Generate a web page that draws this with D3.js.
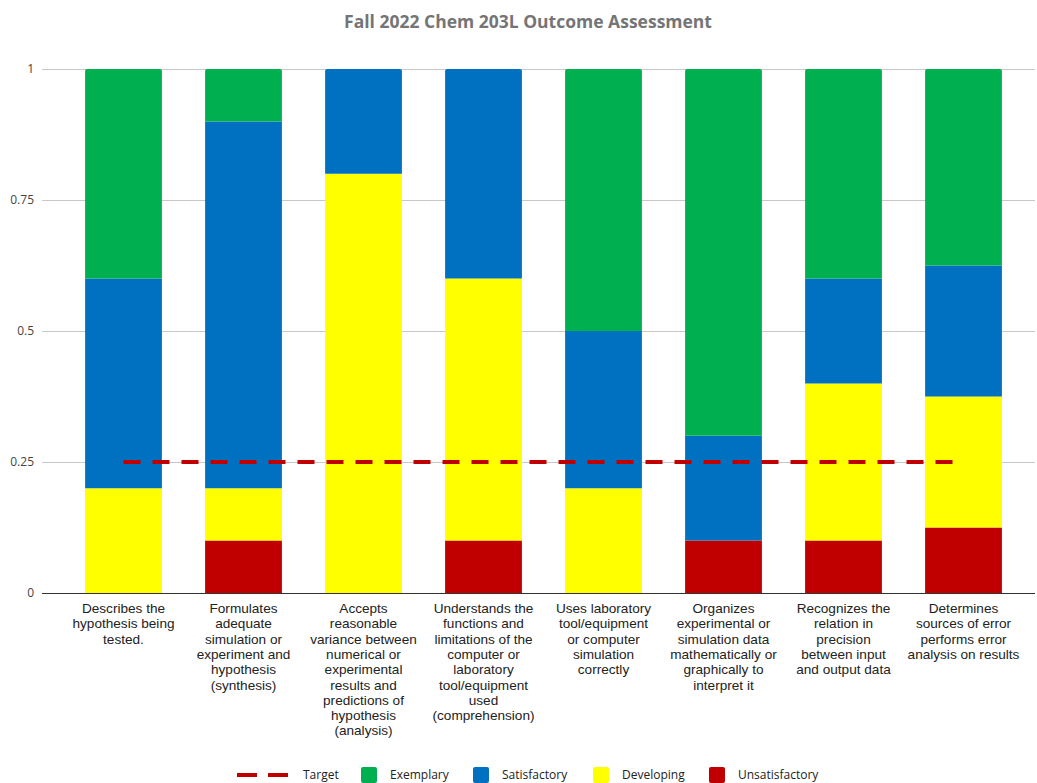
<!DOCTYPE html>
<html><head><meta charset="utf-8">
<script src="https://cdn.jsdelivr.net/npm/d3@7"></script>
<style>body{margin:0;background:#fff;} svg{display:block;font-family:"Open Sans",sans-serif;}</style>
</head><body><svg id="c" width="1037" height="783"></svg>
<script>
const categories = [
  ["Describes the","hypothesis being","tested."],
  ["Formulates","adequate","simulation or","experiment and","hypothesis","(synthesis)"],
  ["Accepts","reasonable","variance between","numerical or","experimental","results and","predictions of","hypothesis","(analysis)"],
  ["Understands the","functions and","limitations of the","computer or","laboratory","tool/equipment","used","(comprehension)"],
  ["Uses laboratory","tool/equipment","or computer","simulation","correctly"],
  ["Organizes","experimental or","simulation data","mathematically or","graphically to","interpret it"],
  ["Recognizes the","relation in","precision","between input","and output data"],
  ["Determines","sources of error","performs error","analysis on results"]
];
const unsatisfactory = [0, 0.1, 0, 0.1, 0, 0.1, 0.1, 0.125];
const developing     = [0.2, 0.1, 0.8, 0.5, 0.2, 0, 0.3, 0.25];
const satisfactory   = [0.4, 0.7, 0.2, 0.4, 0.3, 0.2, 0.2, 0.25];
const exemplary      = [0.4, 0.1, 0, 0, 0.5, 0.7, 0.4, 0.375];
const target         = [0.25, 0.25, 0.25, 0.25, 0.25, 0.25, 0.25, 0.25];
const yTicks = [0, 0.25, 0.5, 0.75, 1];
const yTickLabels = ["0", "0.25", "0.5", "0.75", "1"];
const seriesNames = ["Unsatisfactory", "Developing", "Satisfactory", "Exemplary"];
const seriesColors = ["#c00000", "#ffff00", "#0070c0", "#00b050"];
const legendNames = ["Target", "Exemplary", "Satisfactory", "Developing", "Unsatisfactory"];
const title = "Fall 2022 Chem 203L Outcome Assessment";

const svg = d3.select("#c");
const idx = d3.range(categories.length);
const x = d3.scaleBand().domain(idx).range([63.5, 1023.5]).paddingInner(0.36).paddingOuter(0.18);
const y = d3.scaleLinear().domain([0, 1]).range([593, 69]);

svg.append("text").attr("x", 528).attr("y", 28).attr("text-anchor", "middle")
  .attr("font-size", 17.5).attr("font-weight", "bold").attr("fill", "#757575").text(title);

// gridlines
svg.append("g").selectAll("line").data(yTicks.filter(d => d > 0)).join("line")
  .attr("x1", 42).attr("x2", 1035).attr("y1", d => y(d)).attr("y2", d => y(d))
  .attr("stroke", "#c8c8c8").attr("stroke-width", 1).attr("shape-rendering", "crispEdges");
svg.append("g").selectAll("text").data(yTicks).join("text")
  .attr("x", 34).attr("y", d => y(d) + 4).attr("text-anchor", "end")
  .attr("font-size", 12).attr("fill", "#444").text((d, i) => yTickLabels[i]);

// stacked bars
const table = idx.map(i => ({i, Unsatisfactory: unsatisfactory[i], Developing: developing[i], Satisfactory: satisfactory[i], Exemplary: exemplary[i]}));
const stack = d3.stack().keys(seriesNames)(table);
function segPath(x0, w, yTop, yBot, r) {
  r = Math.min(r, (yBot - yTop));
  return `M${x0},${yBot}V${yTop + r}Q${x0},${yTop} ${x0 + r},${yTop}H${x0 + w - r}Q${x0 + w},${yTop} ${x0 + w},${yTop + r}V${yBot}Z`;
}
stack.forEach((layer, si) => {
  svg.append("g").selectAll("path").data(layer.filter(d => d[1] - d[0] > 1e-9)).join("path")
    .attr("fill", seriesColors[si])
    .attr("d", d => {
      const isTop = Math.abs(d[1] - 1) < 1e-9;
      return segPath(x(d.data.i), x.bandwidth(), y(d[1]), y(d[0]), isTop ? 2 : 0);
    });
});

// baseline
svg.append("line").attr("x1", 42).attr("x2", 1035).attr("y1", y(0)).attr("y2", y(0))
  .attr("stroke", "#333").attr("stroke-width", 1).attr("shape-rendering", "crispEdges");

// target
const line = d3.line().x((d, i) => x(i) + x.bandwidth() / 2).y(d => y(d));
svg.append("path").datum(target).attr("d", line).attr("fill", "none")
  .attr("stroke", "#c00000").attr("stroke-width", 4).attr("stroke-dasharray", "17,12");

// category labels
const lab = svg.append("g").selectAll("text").data(idx).join("text")
  .attr("text-anchor", "middle").attr("font-size", 13.6).attr("fill", "#222")
  .attr("font-family", "'Liberation Sans', Arial, sans-serif");
lab.each(function(i) {
  const t = d3.select(this);
  categories[i].forEach((s, k) => {
    t.append("tspan").attr("x", x(i) + x.bandwidth() / 2).attr("y", 613 + k * 15.3).text(s);
  });
});

// legend
const legendX = [237, 361, 473, 593, 709];
const lg = svg.append("g");
legendNames.forEach((n, k) => {
  const gx = legendX[k];
  if (k === 0) {
    lg.append("line").attr("x1", gx).attr("x2", gx + 51).attr("y1", 775).attr("y2", 775)
      .attr("stroke", "#c00000").attr("stroke-width", 4).attr("stroke-dasharray", "20,11");
    lg.append("text").attr("x", gx + 66).attr("y", 779).attr("font-size", 12).attr("fill", "#222").text(n);
  } else {
    const ci = seriesNames.indexOf(n);
    lg.append("rect").attr("x", gx).attr("y", 767).attr("width", 16).attr("height", 16).attr("rx", 2)
      .attr("fill", seriesColors[ci]);
    lg.append("text").attr("x", gx + 29).attr("y", 779).attr("font-size", 12).attr("fill", "#222").text(n);
  }
});
</script></body></html>
